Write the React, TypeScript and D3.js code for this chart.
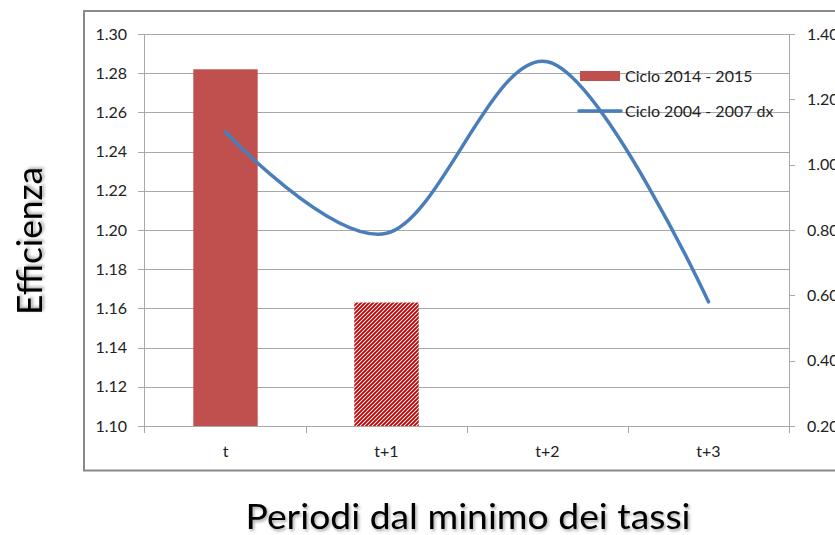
import React from "react";
import * as d3 from "d3";

const categories = ["t", "t+1", "t+2", "t+3"];
const cycle2014Values = [1.282, 1.163];
const cycle2014Estimated = [false, true];
const cycle2004Values = [1.1, 0.79, 1.315, 0.58];
const leftTicks = [1.1, 1.12, 1.14, 1.16, 1.18, 1.2, 1.22, 1.24, 1.26, 1.28, 1.3];
const rightTicks = [0.2, 0.4, 0.6, 0.8, 1.0, 1.2, 1.4];
const seriesNames = ["Ciclo 2014 - 2015", "Ciclo 2004 - 2007 dx"];
const yTitle = "Efficienza";
const xTitle = "Periodi dal minimo dei tassi";

const W = 835;
const H = 535;
const plot = { left: 145, right: 789, top: 34, bottom: 426 };
const FONT = "Lato, 'Open Sans', sans-serif";
const GRID = "#A8A8A8";
const BAR = "#C0504D";
const LINE = "#4A7EBB";
const HATCH = "#C00000";

export default function App() {
  const x = d3.scaleBand<string>().domain(categories).range([plot.left, plot.right]).padding(0);
  const yL = d3.scaleLinear().domain([1.1, 1.3]).range([plot.bottom, plot.top]);
  const yR = d3.scaleLinear().domain([0.2, 1.4]).range([plot.bottom, plot.top]);
  const bw = x.bandwidth() * 0.4;
  const cx = (c: string) => (x(c) as number) + x.bandwidth() / 2;

  const line = d3
    .line<number>()
    .x((_, i) => cx(categories[i]))
    .y((d) => yR(d))
    .curve(d3.curveCatmullRom.alpha(0));

  return (
    <svg width={W} height={H} style={{ position: "absolute", left: 0, top: 0 }}>
      <defs>
        <pattern id="hatch" width={4} height={4} patternUnits="userSpaceOnUse">
          <rect width={4} height={4} fill="#fff" />
          <path d="M-1,1 l2,-2 M0,4 l4,-4 M3,5 l2,-2" stroke={HATCH} strokeWidth={1.9} />
        </pattern>
        <filter id="shadow" x="-10%" y="-30%" width="120%" height="160%">
          <feDropShadow dx={1.5} dy={2} stdDeviation={1.5} floodColor="#000" floodOpacity={0.35} />
        </filter>
      </defs>
      <rect x={0} y={0} width={W} height={H} fill="#fff" />
      {/* chart frame */}
      <rect x={84} y={11} width={W} height={459.5} fill="none" stroke="#898989" strokeWidth={2} />

      {/* gridlines */}
      {leftTicks.map((t) => (
        <line key={"g" + t} x1={plot.left} x2={plot.right} y1={Math.round(yL(t)) + 0.5} y2={Math.round(yL(t)) + 0.5} stroke={GRID} strokeWidth={1} />
      ))}
      {/* left axis */}
      <line x1={plot.left - 0.5} x2={plot.left - 0.5} y1={plot.top} y2={plot.bottom + 7} stroke={GRID} />
      {leftTicks.map((t) => (
        <g key={"l" + t}>
          <line x1={plot.left - 7} x2={plot.left} y1={Math.round(yL(t)) + 0.5} y2={Math.round(yL(t)) + 0.5} stroke={GRID} />
          <text x={127} y={yL(t)} dy="0.35em" textAnchor="end" fontFamily={FONT} fontSize={16} fill="#222">
            {t.toFixed(2)}
          </text>
        </g>
      ))}
      {/* right axis */}
      <line x1={plot.right + 0.5} x2={plot.right + 0.5} y1={plot.top} y2={plot.bottom} stroke={GRID} />
      {rightTicks.map((t) => (
        <g key={"r" + t}>
          <line x1={plot.right} x2={plot.right + 6} y1={Math.round(yR(t)) + 0.5} y2={Math.round(yR(t)) + 0.5} stroke={GRID} />
          <text x={807} y={yR(t)} dy="0.35em" textAnchor="start" fontFamily={FONT} fontSize={16} fill="#222">
            {t.toFixed(2)}
          </text>
        </g>
      ))}
      {/* category ticks */}
      {categories.map((c, i) => (
        <g key={"c" + c}>
          {i > 0 && (
            <line x1={Math.round(x(c) as number) + 0.5} x2={Math.round(x(c) as number) + 0.5} y1={plot.bottom} y2={plot.bottom + 7} stroke={GRID} />
          )}
          <text x={cx(c)} y={457} textAnchor="middle" fontFamily={FONT} fontSize={16} fill="#222">
            {c}
          </text>
        </g>
      ))}
      <line x1={plot.right + 0.5} x2={plot.right + 0.5} y1={plot.bottom} y2={plot.bottom + 7} stroke={GRID} />

      {/* bars */}
      {cycle2014Values.map((v, i) => (
        <rect
          key={"b" + i}
          x={cx(categories[i]) - bw / 2}
          width={bw}
          y={yL(v)}
          height={yL(1.1) - yL(v)}
          fill={cycle2014Estimated[i] ? "url(#hatch)" : BAR}
        />
      ))}

      {/* line */}
      <path d={line(cycle2004Values) || ""} fill="none" stroke={LINE} strokeWidth={3.5} strokeLinecap="round" />

      {/* legend */}
      <rect x={580} y={71} width={40} height={10} fill={BAR} />
      <text x={625} y={76} dy="0.35em" fontFamily={FONT} fontSize={16} fill="#222">
        {seriesNames[0]}
      </text>
      <line x1={579} x2={621} y1={111} y2={111} stroke={LINE} strokeWidth={3.5} strokeLinecap="round" />
      <text x={625} y={111} dy="0.35em" fontFamily={FONT} fontSize={16} fill="#222">
        {seriesNames[1]}
      </text>

      {/* axis titles */}
      <text
        transform="translate(42,241) rotate(-90)"
        textAnchor="middle"
        fontFamily={FONT}
        fontSize={34}
        textLength={148}
        lengthAdjust="spacingAndGlyphs"
        fill="#000"
        filter="url(#shadow)"
      >
        {yTitle}
      </text>
      <text
        x={468}
        y={529}
        textAnchor="middle"
        fontFamily={FONT}
        fontSize={35}
        textLength={445}
        lengthAdjust="spacingAndGlyphs"
        fill="#000"
        filter="url(#shadow)"
      >
        {xTitle}
      </text>
    </svg>
  );
}
